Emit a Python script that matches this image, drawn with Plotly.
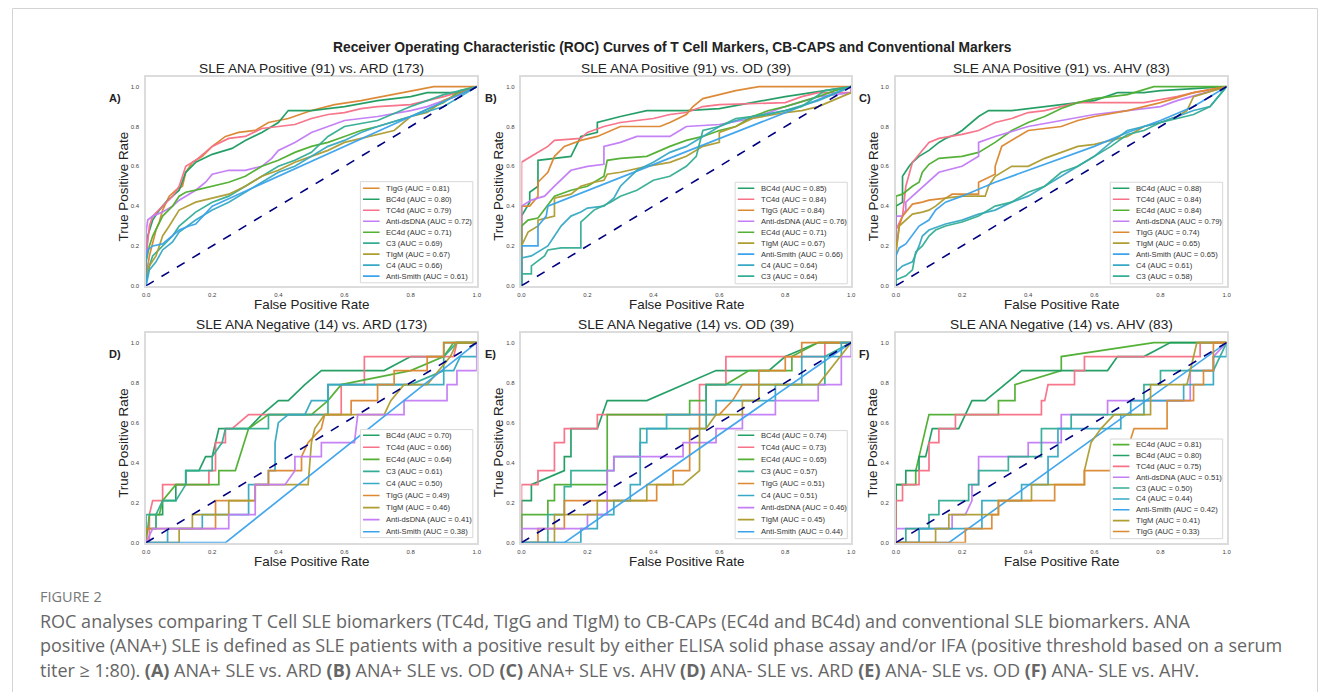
import plotly.graph_objects as go

W, H = 1331, 700          # browser window
OFF = 8                   # default page margin around the plot div
FW, FH = W - 2 * OFF, H - 2 * OFF

# ---------------- data ----------------
colors = {
    "TIgG": "#dc8932", "BC4d": "#22a066", "TC4d": "#f77189", "Anti-dsDNA": "#c47df5",
    "EC4d": "#52b033", "C3": "#35ad94", "TIgM": "#ae9d31", "C4": "#38a9c5", "Anti-Smith": "#3ba3ec",
}

panel_titles = [
    "SLE ANA Positive (91) vs. ARD (173)", "SLE ANA Positive (91) vs. OD (39)", "SLE ANA Positive (91) vs. AHV (83)",
    "SLE ANA Negative (14) vs. ARD (173)", "SLE ANA Negative (14) vs. OD (39)", "SLE ANA Negative (14) vs. AHV (83)",
]
panel_letters = ["A)", "B)", "C)", "D)", "E)", "F)"]

order_A = ["TIgG", "BC4d", "TC4d", "Anti-dsDNA", "EC4d", "C3", "TIgM", "C4", "Anti-Smith"]
auc_A = [0.81, 0.80, 0.79, 0.72, 0.71, 0.69, 0.67, 0.66, 0.61]
order_B = ["BC4d", "TC4d", "TIgG", "Anti-dsDNA", "EC4d", "TIgM", "Anti-Smith", "C4", "C3"]
auc_B = [0.85, 0.84, 0.84, 0.76, 0.71, 0.67, 0.66, 0.64, 0.64]
order_C = ["BC4d", "TC4d", "EC4d", "Anti-dsDNA", "TIgG", "TIgM", "Anti-Smith", "C4", "C3"]
auc_C = [0.88, 0.84, 0.84, 0.79, 0.74, 0.65, 0.65, 0.61, 0.58]
order_D = ["BC4d", "TC4d", "EC4d", "C3", "C4", "TIgG", "TIgM", "Anti-dsDNA", "Anti-Smith"]
auc_D = [0.70, 0.66, 0.64, 0.61, 0.50, 0.49, 0.46, 0.41, 0.38]
order_E = ["BC4d", "TC4d", "EC4d", "C3", "TIgG", "C4", "Anti-dsDNA", "TIgM", "Anti-Smith"]
auc_E = [0.74, 0.73, 0.65, 0.57, 0.51, 0.51, 0.46, 0.45, 0.44]
order_F = ["EC4d", "BC4d", "TC4d", "Anti-dsDNA", "C3", "C4", "Anti-Smith", "TIgM", "TIgG"]
auc_F = [0.81, 0.80, 0.75, 0.51, 0.50, 0.44, 0.42, 0.41, 0.33]

# ROC points per panel: marker -> (fpr list, tpr list)
roc_A = {
    "TIgG": ([0, 0, 0.01, 0.02, 0.03, 0.04, 0.05, 0.07, 0.09, 0.11, 0.12, 0.14, 0.17, 0.2, 0.24, 0.28, 0.33, 0.37, 0.43, 0.5, 0.57, 0.65, 0.77, 0.87, 1],
             [0, 0.05, 0.15, 0.22, 0.28, 0.32, 0.38, 0.45, 0.48, 0.5, 0.57, 0.62, 0.65, 0.7, 0.75, 0.77, 0.78, 0.82, 0.84, 0.88, 0.91, 0.93, 0.97, 1.0, 1.0]),
    "BC4d": ([0, 0, 0.005, 0.02, 0.04, 0.06, 0.08, 0.1, 0.12, 0.15, 0.2, 0.26, 0.3, 0.35, 0.4, 0.43, 0.5, 0.6, 0.7, 0.8, 0.85, 0.95, 1],
             [0, 0.13, 0.25, 0.33, 0.38, 0.42, 0.45, 0.48, 0.57, 0.62, 0.66, 0.69, 0.73, 0.77, 0.82, 0.88, 0.88, 0.9, 0.93, 0.95, 0.97, 0.97, 1.0]),
    "TC4d": ([0, 0, 0.01, 0.02, 0.05, 0.08, 0.1, 0.12, 0.15, 0.2, 0.25, 0.3, 0.35, 0.4, 0.45, 0.5, 0.55, 0.6, 0.65, 0.7, 0.8, 0.85, 0.9, 1],
             [0, 0.15, 0.3, 0.35, 0.4, 0.45, 0.5, 0.6, 0.63, 0.7, 0.74, 0.75, 0.79, 0.8, 0.81, 0.84, 0.86, 0.87, 0.89, 0.9, 0.91, 0.93, 0.95, 1.0]),
    "Anti-dsDNA": ([0, 0, 0.005, 0.02, 0.05, 0.08, 0.1, 0.12, 0.15, 0.18, 0.2, 0.25, 0.3, 0.35, 0.38, 0.4, 0.45, 0.5, 0.55, 0.6, 0.7, 0.8, 0.85, 0.9, 0.95, 1],
                   [0, 0.27, 0.33, 0.35, 0.37, 0.4, 0.43, 0.45, 0.48, 0.52, 0.56, 0.58, 0.58, 0.6, 0.64, 0.68, 0.72, 0.77, 0.8, 0.83, 0.85, 0.88, 0.9, 0.93, 0.96, 1.0]),
    "EC4d": ([0, 0, 0.01, 0.02, 0.05, 0.08, 0.1, 0.12, 0.15, 0.2, 0.25, 0.3, 0.35, 0.4, 0.45, 0.5, 0.55, 0.6, 0.65, 0.7, 0.8, 0.9, 0.95, 1],
             [0, 0.12, 0.2, 0.25, 0.35, 0.4, 0.45, 0.47, 0.48, 0.5, 0.52, 0.55, 0.6, 0.63, 0.67, 0.7, 0.72, 0.75, 0.78, 0.8, 0.85, 0.92, 0.98, 1.0]),
    "C3": ([0, 0.01, 0.02, 0.05, 0.08, 0.1, 0.15, 0.2, 0.25, 0.3, 0.35, 0.4, 0.45, 0.5, 0.55, 0.6, 0.7, 0.8, 0.85, 0.9, 1],
           [0.02, 0.1, 0.15, 0.2, 0.25, 0.3, 0.37, 0.42, 0.45, 0.5, 0.55, 0.6, 0.63, 0.67, 0.75, 0.8, 0.83, 0.9, 0.93, 0.96, 1.0]),
    "TIgM": ([0, 0.01, 0.03, 0.05, 0.07, 0.1, 0.15, 0.2, 0.25, 0.3, 0.35, 0.4, 0.45, 0.5, 0.55, 0.6, 0.65, 0.7, 0.75, 0.8, 0.85, 0.9, 1],
             [0.05, 0.1, 0.15, 0.25, 0.3, 0.38, 0.42, 0.44, 0.46, 0.5, 0.55, 0.58, 0.62, 0.65, 0.68, 0.72, 0.74, 0.76, 0.78, 0.85, 0.87, 0.93, 1.0]),
    "C4": ([0, 0.01, 0.03, 0.05, 0.08, 0.1, 0.15, 0.2, 0.25, 0.3, 0.35, 0.4, 0.45, 0.5, 0.55, 0.6, 0.65, 0.7, 0.8, 0.9, 0.95, 1],
           [0, 0.08, 0.12, 0.18, 0.22, 0.27, 0.33, 0.38, 0.42, 0.47, 0.52, 0.57, 0.6, 0.65, 0.7, 0.73, 0.77, 0.8, 0.85, 0.9, 0.95, 1.0]),
    "Anti-Smith": ([0, 0, 0.005, 0.02, 0.05, 0.08, 0.1, 0.13, 0.15, 0.2, 1],
                   [0, 0.13, 0.18, 0.2, 0.21, 0.25, 0.28, 0.3, 0.31, 0.4, 1.0]),
}
roc_B = {
    "BC4d": ([0, 0, 0.025, 0.025, 0.05, 0.05, 0.1, 0.15, 0.18, 0.23, 0.23, 0.3, 0.38, 0.5, 0.6, 0.7, 0.8, 0.92, 1],
             [0, 0.35, 0.42, 0.47, 0.5, 0.63, 0.64, 0.65, 0.75, 0.77, 0.82, 0.85, 0.88, 0.88, 0.89, 0.92, 0.95, 0.98, 1.0]),
    "TC4d": ([0, 0, 0.03, 0.05, 0.08, 0.1, 0.18, 0.2, 0.25, 0.3, 0.4, 0.45, 0.5, 0.55, 0.6, 0.8, 0.85, 0.9, 1, 1],
             [0, 0.62, 0.65, 0.67, 0.7, 0.73, 0.74, 0.77, 0.8, 0.82, 0.84, 0.86, 0.87, 0.9, 0.91, 0.92, 0.95, 0.97, 0.97, 1.0]),
    "TIgG": ([0, 0, 0.025, 0.05, 0.05, 0.08, 0.1, 0.13, 0.18, 0.23, 0.3, 0.42, 0.45, 0.5, 0.52, 0.55, 0.6, 0.65, 0.72, 1],
             [0, 0.4, 0.4, 0.45, 0.52, 0.57, 0.65, 0.7, 0.73, 0.75, 0.8, 0.8, 0.82, 0.86, 0.9, 0.94, 0.96, 0.98, 1.0, 1.0]),
    "Anti-dsDNA": ([0, 0, 0.03, 0.07, 0.1, 0.13, 0.15, 0.2, 0.25, 0.25, 0.3, 0.35, 0.45, 0.47, 0.5, 0.6, 0.7, 0.75, 0.8, 0.9, 1, 1],
                   [0, 0.4, 0.43, 0.45, 0.5, 0.55, 0.58, 0.6, 0.61, 0.7, 0.72, 0.75, 0.75, 0.77, 0.8, 0.81, 0.84, 0.87, 0.9, 0.95, 0.97, 1.0]),
    "EC4d": ([0, 0, 0.02, 0.05, 0.1, 0.15, 0.2, 0.25, 0.26, 0.3, 0.38, 0.45, 0.5, 0.55, 0.6, 0.65, 0.7, 0.75, 0.8, 0.9, 0.95, 1],
             [0, 0.3, 0.33, 0.34, 0.45, 0.48, 0.5, 0.55, 0.63, 0.64, 0.65, 0.7, 0.73, 0.75, 0.78, 0.8, 0.85, 0.88, 0.9, 0.95, 0.98, 1.0]),
    "TIgM": ([0, 0, 0.02, 0.05, 0.05, 0.1, 0.1, 0.15, 0.18, 0.22, 0.25, 0.26, 0.3, 0.38, 0.45, 0.5, 0.55, 0.6, 0.6, 0.65, 0.7, 0.8, 0.85, 0.9, 1],
             [0, 0.2, 0.27, 0.3, 0.33, 0.35, 0.44, 0.46, 0.5, 0.52, 0.53, 0.56, 0.57, 0.6, 0.62, 0.65, 0.7, 0.72, 0.77, 0.8, 0.84, 0.87, 0.88, 0.9, 0.97]),
    "Anti-Smith": ([0, 0, 0.05, 0.05, 0.075, 0.08, 1],
                   [0, 0.2, 0.2, 0.3, 0.35, 0.4, 1.0]),
    "C4": ([0, 0, 0.03, 0.05, 0.08, 0.1, 0.12, 0.15, 0.18, 0.2, 0.25, 0.28, 0.3, 0.35, 0.4, 0.45, 0.5, 0.55, 0.6, 0.65, 0.7, 0.8, 0.9, 1],
           [0, 0.14, 0.15, 0.17, 0.2, 0.25, 0.3, 0.35, 0.37, 0.39, 0.4, 0.44, 0.5, 0.58, 0.62, 0.67, 0.7, 0.75, 0.8, 0.83, 0.85, 0.88, 0.93, 1.0]),
    "C3": ([0, 0, 0.03, 0.03, 0.07, 0.08, 0.12, 0.18, 0.18, 0.22, 0.27, 0.3, 0.35, 0.4, 0.45, 0.5, 0.53, 0.55, 0.6, 0.65, 0.75, 0.85, 0.92, 1],
           [0, 0.06, 0.06, 0.1, 0.15, 0.18, 0.19, 0.19, 0.32, 0.38, 0.42, 0.45, 0.48, 0.53, 0.55, 0.6, 0.65, 0.78, 0.8, 0.84, 0.86, 0.9, 0.98, 1.0]),
}
roc_C = {
    "BC4d": ([0, 0, 0.02, 0.02, 0.04, 0.05, 0.07, 0.1, 0.13, 0.15, 0.18, 0.2, 0.25, 0.28, 0.35, 0.4, 0.5, 0.6, 0.67, 0.75, 0.8, 0.9, 1],
             [0, 0.4, 0.42, 0.55, 0.6, 0.62, 0.65, 0.68, 0.72, 0.74, 0.76, 0.78, 0.85, 0.88, 0.88, 0.89, 0.91, 0.93, 0.97, 0.97, 0.98, 0.99, 1.0]),
    "TC4d": ([0, 0, 0.02, 0.03, 0.05, 0.07, 0.1, 0.13, 0.2, 0.25, 0.3, 0.35, 0.4, 0.45, 0.5, 0.55, 0.75, 0.85, 0.9, 1],
             [0, 0.28, 0.35, 0.5, 0.62, 0.66, 0.72, 0.74, 0.76, 0.78, 0.82, 0.84, 0.87, 0.88, 0.9, 0.92, 0.92, 0.95, 0.97, 1.0]),
    "EC4d": ([0, 0, 0.02, 0.05, 0.07, 0.08, 0.1, 0.13, 0.2, 0.25, 0.3, 0.35, 0.4, 0.45, 0.5, 0.55, 0.6, 0.7, 0.78, 1],
             [0, 0.45, 0.46, 0.5, 0.52, 0.57, 0.61, 0.64, 0.65, 0.67, 0.72, 0.78, 0.82, 0.85, 0.89, 0.92, 0.94, 0.96, 1.0, 1.0]),
    "Anti-dsDNA": ([0, 0, 0.02, 0.03, 0.03, 0.05, 0.08, 0.1, 0.13, 0.2, 0.25, 0.25, 0.3, 0.4, 0.5, 0.6, 0.7, 0.8, 0.85, 1],
                   [0, 0.35, 0.35, 0.38, 0.42, 0.45, 0.5, 0.53, 0.57, 0.6, 0.65, 0.72, 0.75, 0.8, 0.83, 0.86, 0.88, 0.9, 0.93, 1.0]),
    "TIgG": ([0, 0, 0.005, 0.01, 0.02, 0.05, 0.08, 0.1, 0.15, 0.17, 0.25, 0.25, 0.3, 0.3, 0.32, 0.35, 0.4, 0.5, 0.55, 0.6, 0.7, 0.8, 0.9, 1],
             [0, 0.17, 0.23, 0.3, 0.35, 0.41, 0.42, 0.43, 0.44, 0.46, 0.46, 0.52, 0.56, 0.6, 0.7, 0.73, 0.78, 0.8, 0.83, 0.85, 0.88, 0.92, 0.97, 1.0]),
    "TIgM": ([0, 0, 0.01, 0.03, 0.05, 0.08, 0.1, 0.12, 0.15, 0.2, 0.27, 0.28, 0.3, 0.35, 0.4, 0.45, 0.5, 0.55, 0.6, 0.7, 0.75, 0.8, 0.85, 0.88, 0.9, 1],
             [0, 0.17, 0.3, 0.33, 0.36, 0.37, 0.38, 0.4, 0.44, 0.45, 0.45, 0.5, 0.55, 0.6, 0.6, 0.64, 0.67, 0.7, 0.71, 0.75, 0.8, 0.82, 0.85, 0.88, 0.95, 1.0]),
    "Anti-Smith": ([0, 0, 0.01, 0.03, 0.07, 0.1, 0.12, 0.15, 0.2, 0.3, 0.4, 0.5, 0.6, 0.7, 0.8, 0.9, 1],
                   [0, 0.15, 0.19, 0.21, 0.3, 0.33, 0.38, 0.42, 0.45, 0.52, 0.58, 0.64, 0.7, 0.77, 0.83, 0.9, 1.0]),
    "C4": ([0, 0, 0.02, 0.05, 0.07, 0.08, 0.1, 0.13, 0.15, 0.2, 0.25, 0.3, 0.35, 0.4, 0.45, 0.5, 0.55, 0.6, 0.65, 0.7, 0.8, 0.9, 0.95, 1],
           [0, 0.07, 0.1, 0.12, 0.2, 0.25, 0.28, 0.3, 0.31, 0.33, 0.36, 0.38, 0.42, 0.45, 0.5, 0.55, 0.6, 0.65, 0.72, 0.78, 0.82, 0.88, 0.9, 1.0]),
    "C3": ([0, 0, 0.03, 0.05, 0.06, 0.08, 0.1, 0.12, 0.15, 0.2, 0.25, 0.3, 0.35, 0.4, 0.45, 0.5, 0.55, 0.6, 0.65, 0.7, 0.75, 0.8, 0.85, 0.9, 0.95, 1],
           [0, 0.03, 0.05, 0.08, 0.17, 0.2, 0.25, 0.28, 0.3, 0.32, 0.35, 0.4, 0.42, 0.47, 0.5, 0.57, 0.6, 0.65, 0.7, 0.76, 0.78, 0.82, 0.84, 0.86, 0.9, 1.0]),
}
roc_D = {
    "BC4d": ([0, 0, 0.03, 0.03, 0.05, 0.05, 0.09, 0.09, 0.12, 0.12, 0.16, 0.18, 0.2, 0.22, 0.31, 0.35, 0.4, 0.43, 0.48, 0.53, 0.72, 0.8, 0.9, 0.9, 1],
             [0, 0.07, 0.07, 0.14, 0.14, 0.21, 0.21, 0.29, 0.29, 0.36, 0.36, 0.43, 0.43, 0.57, 0.57, 0.64, 0.71, 0.71, 0.79, 0.86, 0.86, 0.93, 0.93, 1.0, 1.0]),
    "TC4d": ([0, 0.01, 0.01, 0.02, 0.05, 0.05, 0.19, 0.19, 0.21, 0.21, 0.24, 0.24, 0.26, 0.31, 0.59, 0.59, 0.66, 0.66, 0.93, 0.94, 1],
             [0, 0, 0.14, 0.21, 0.21, 0.29, 0.29, 0.36, 0.36, 0.5, 0.5, 0.57, 0.57, 0.64, 0.64, 0.79, 0.79, 0.93, 0.93, 1.0, 1.0]),
    "EC4d": ([0, 0.01, 0.04, 0.05, 0.09, 0.22, 0.22, 0.27, 0.31, 0.37, 0.5, 0.55, 0.59, 0.8, 0.9, 0.93, 1],
             [0, 0.14, 0.14, 0.21, 0.29, 0.29, 0.36, 0.36, 0.57, 0.64, 0.64, 0.71, 0.79, 0.86, 0.93, 1.0, 1.0]),
    "C3": ([0, 0, 0.03, 0.05, 0.09, 0.12, 0.12, 0.2, 0.2, 0.23, 0.24, 0.37, 0.37, 0.55, 0.55, 0.8, 0.9, 0.9, 0.94, 1],
           [0, 0.14, 0.14, 0.21, 0.21, 0.29, 0.36, 0.36, 0.43, 0.5, 0.57, 0.57, 0.64, 0.64, 0.79, 0.79, 0.86, 0.93, 1.0, 1.0]),
    "C4": ([0, 0.065, 0.065, 0.17, 0.17, 0.31, 0.31, 0.37, 0.37, 0.39, 0.39, 0.4, 0.43, 0.48, 0.5, 0.55, 0.55, 0.9, 0.9, 0.93, 0.95, 1, 1],
           [0, 0, 0.07, 0.07, 0.14, 0.14, 0.29, 0.29, 0.36, 0.36, 0.5, 0.6, 0.64, 0.64, 0.71, 0.71, 0.79, 0.79, 0.86, 0.86, 0.93, 0.93, 1.0]),
    "TIgG": ([0, 0, 0.21, 0.21, 0.33, 0.33, 0.37, 0.37, 0.47, 0.47, 0.49, 0.53, 0.54, 0.62, 0.62, 0.7, 0.7, 0.75, 0.75, 0.85, 0.85, 0.9, 0.9, 1],
             [0, 0.07, 0.07, 0.21, 0.21, 0.29, 0.29, 0.36, 0.36, 0.43, 0.5, 0.57, 0.64, 0.64, 0.71, 0.71, 0.79, 0.79, 0.86, 0.86, 0.93, 0.93, 1.0, 1.0]),
    "TIgM": ([0, 0.1, 0.1, 0.14, 0.14, 0.25, 0.25, 0.33, 0.33, 0.49, 0.5, 0.51, 0.54, 0.72, 0.74, 0.78, 0.85, 0.92, 0.94, 1],
             [0, 0, 0.07, 0.07, 0.14, 0.14, 0.21, 0.21, 0.29, 0.29, 0.5, 0.57, 0.64, 0.64, 0.71, 0.79, 0.79, 0.93, 1.0, 1.0]),
    "Anti-dsDNA": ([0, 0.02, 0.25, 0.25, 0.33, 0.33, 0.42, 0.45, 0.45, 0.53, 0.53, 0.63, 0.64, 0.78, 0.78, 0.91, 0.91, 0.94, 0.94, 1, 1],
                   [0, 0.07, 0.07, 0.14, 0.14, 0.29, 0.29, 0.36, 0.43, 0.43, 0.5, 0.5, 0.64, 0.64, 0.71, 0.71, 0.79, 0.79, 0.86, 0.86, 1.0]),
    "Anti-Smith": ([0, 0.24, 1], [0, 0, 1.0]),
}
roc_E = {
    "BC4d": ([0, 0, 0.03, 0.03, 0.13, 0.13, 0.15, 0.15, 0.23, 0.26, 0.38, 0.59, 0.75, 0.8, 0.9, 1],
             [0, 0.21, 0.21, 0.29, 0.36, 0.43, 0.43, 0.57, 0.57, 0.71, 0.71, 0.86, 0.86, 0.93, 1.0, 1.0]),
    "TC4d": ([0, 0, 0.05, 0.05, 0.1, 0.1, 0.13, 0.13, 0.23, 0.23, 0.54, 0.54, 0.62, 0.62, 0.92, 0.92, 1],
             [0, 0.29, 0.29, 0.36, 0.36, 0.5, 0.5, 0.57, 0.57, 0.64, 0.64, 0.79, 0.79, 0.93, 0.93, 1.0, 1.0]),
    "EC4d": ([0, 0, 0.08, 0.08, 0.1, 0.1, 0.26, 0.26, 0.51, 0.51, 0.56, 0.56, 0.62, 0.69, 0.82, 0.82, 0.9, 1],
             [0, 0.14, 0.14, 0.21, 0.21, 0.29, 0.29, 0.64, 0.64, 0.71, 0.71, 0.79, 0.79, 0.86, 0.86, 0.93, 1.0, 1.0]),
    "C3": ([0, 0.08, 0.08, 0.13, 0.13, 0.15, 0.15, 0.28, 0.28, 0.36, 0.36, 0.56, 0.56, 0.92, 0.92, 1],
           [0, 0, 0.14, 0.14, 0.28, 0.28, 0.36, 0.36, 0.43, 0.43, 0.57, 0.57, 0.79, 0.79, 0.93, 1.0]),
    "TIgG": ([0, 0.05, 0.05, 0.13, 0.13, 0.41, 0.41, 0.46, 0.46, 0.51, 0.51, 0.54, 0.54, 0.6, 0.64, 0.67, 0.72, 0.72, 0.8, 0.8, 0.85, 0.85, 1],
             [0, 0, 0.07, 0.07, 0.21, 0.21, 0.29, 0.29, 0.36, 0.36, 0.57, 0.57, 0.64, 0.64, 0.71, 0.79, 0.79, 0.86, 0.86, 0.93, 0.93, 1.0, 1.0]),
    "C4": ([0, 0.18, 0.18, 0.23, 0.23, 0.28, 0.28, 0.33, 0.33, 0.36, 0.36, 0.38, 0.38, 0.44, 0.44, 0.59, 0.59, 0.77, 0.77, 0.85, 0.85, 0.97, 0.97, 1],
           [0, 0, 0.07, 0.07, 0.14, 0.14, 0.21, 0.21, 0.29, 0.29, 0.5, 0.5, 0.57, 0.57, 0.64, 0.64, 0.71, 0.71, 0.79, 0.79, 0.93, 0.93, 1.0, 1.0]),
    "Anti-dsDNA": ([0, 0, 0.2, 0.2, 0.26, 0.26, 0.28, 0.28, 0.49, 0.49, 0.59, 0.59, 0.67, 0.67, 0.77, 0.77, 0.9, 0.9, 0.97, 0.97, 1, 1],
                   [0, 0.07, 0.07, 0.14, 0.14, 0.36, 0.36, 0.43, 0.43, 0.5, 0.5, 0.57, 0.57, 0.64, 0.64, 0.71, 0.71, 0.79, 0.79, 0.93, 0.93, 1.0]),
    "TIgM": ([0, 0.1, 0.1, 0.23, 0.23, 0.38, 0.38, 0.49, 0.54, 0.54, 0.56, 0.59, 0.67, 0.67, 0.72, 0.72, 0.9, 1],
             [0, 0, 0.14, 0.14, 0.21, 0.21, 0.29, 0.29, 0.36, 0.57, 0.57, 0.64, 0.64, 0.71, 0.71, 0.79, 0.79, 1.0]),
    "Anti-Smith": ([0, 0.13, 1], [0, 0, 1.0]),
}
roc_F = {
    "EC4d": ([0, 0, 0.06, 0.06, 0.07, 0.1, 0.31, 0.31, 0.36, 0.36, 0.5, 0.5, 0.78, 1],
             [0, 0.29, 0.29, 0.36, 0.43, 0.64, 0.64, 0.71, 0.71, 0.79, 0.86, 0.93, 1.0, 1.0]),
    "BC4d": ([0, 0, 0.03, 0.03, 0.07, 0.07, 0.09, 0.11, 0.19, 0.21, 0.23, 0.27, 0.33, 0.38, 0.64, 0.67, 0.75, 0.83, 1],
             [0, 0.29, 0.29, 0.36, 0.36, 0.43, 0.43, 0.57, 0.57, 0.64, 0.71, 0.71, 0.79, 0.86, 0.86, 0.93, 0.93, 1.0, 1.0]),
    "TC4d": ([0, 0, 0.02, 0.02, 0.07, 0.07, 0.1, 0.1, 0.13, 0.13, 0.18, 0.18, 0.44, 0.44, 0.45, 0.46, 0.54, 0.54, 0.57, 0.57, 0.92, 0.92, 1],
             [0, 0.21, 0.21, 0.29, 0.29, 0.36, 0.36, 0.5, 0.5, 0.57, 0.57, 0.64, 0.64, 0.71, 0.71, 0.79, 0.79, 0.86, 0.86, 0.93, 0.93, 1.0, 1.0]),
    "Anti-dsDNA": ([0, 0, 0.17, 0.17, 0.21, 0.23, 0.23, 0.25, 0.25, 0.4, 0.4, 0.5, 0.5, 0.64, 0.64, 0.89, 0.89, 0.96, 0.96, 1],
                   [0, 0.07, 0.07, 0.14, 0.14, 0.21, 0.29, 0.29, 0.43, 0.43, 0.5, 0.5, 0.64, 0.64, 0.71, 0.71, 0.86, 0.86, 0.93, 1.0]),
    "C3": ([0, 0.03, 0.03, 0.1, 0.1, 0.13, 0.13, 0.22, 0.22, 0.25, 0.25, 0.34, 0.34, 0.44, 0.44, 0.53, 0.53, 0.75, 0.75, 0.8, 0.8, 0.96, 1],
           [0, 0, 0.07, 0.07, 0.14, 0.14, 0.21, 0.21, 0.29, 0.29, 0.36, 0.36, 0.43, 0.43, 0.57, 0.57, 0.64, 0.64, 0.79, 0.79, 0.86, 0.86, 1.0]),
    "C4": ([0, 0.07, 0.07, 0.26, 0.26, 0.38, 0.38, 0.46, 0.46, 0.49, 0.49, 0.68, 0.68, 0.71, 0.71, 0.87, 0.87, 0.96, 0.96, 1, 1],
           [0, 0, 0.07, 0.07, 0.21, 0.21, 0.29, 0.29, 0.43, 0.43, 0.57, 0.57, 0.64, 0.64, 0.71, 0.71, 0.79, 0.79, 0.93, 0.93, 1.0]),
    "Anti-Smith": ([0, 0.16, 1], [0, 0, 1.0]),
    "TIgM": ([0, 0.12, 0.12, 0.16, 0.16, 0.31, 0.31, 0.41, 0.41, 0.57, 0.57, 0.59, 0.62, 0.66, 0.77, 0.77, 0.88, 0.91, 1],
             [0, 0, 0.07, 0.07, 0.14, 0.14, 0.21, 0.21, 0.29, 0.29, 0.36, 0.5, 0.57, 0.64, 0.64, 0.79, 0.79, 1.0, 1.0]),
    "TIgG": ([0, 0.21, 0.21, 0.29, 0.29, 0.31, 0.31, 0.48, 0.48, 0.57, 0.57, 0.68, 0.72, 0.82, 0.82, 0.9, 0.9, 0.93, 0.93, 0.96, 0.96, 1],
             [0, 0, 0.07, 0.07, 0.14, 0.14, 0.21, 0.21, 0.29, 0.29, 0.36, 0.36, 0.57, 0.57, 0.71, 0.71, 0.79, 0.79, 0.86, 0.86, 1.0, 1.0]),
}

tick_vals = [0.0, 0.2, 0.4, 0.6, 0.8, 1.0]

caption_head = "FIGURE 2"
caption_lines = [
    "ROC analyses comparing T Cell SLE biomarkers (TC4d, TIgG and TIgM) to CB-CAPs (EC4d and BC4d) and conventional SLE biomarkers. ANA",
    "positive (ANA+) SLE is defined as SLE patients with a positive result by either ELISA solid phase assay and/or IFA (positive threshold based on a serum",
    "titer ≥ 1:80). <b>(A)</b> ANA+ SLE vs. ARD <b>(B)</b> ANA+ SLE vs. OD <b>(C)</b> ANA+ SLE vs. AHV <b>(D)</b> ANA- SLE vs. ARD <b>(E)</b> ANA- SLE vs. OD <b>(F)</b> ANA- SLE vs. AHV.",
]
suptitle = "Receiver Operating Characteristic (ROC) Curves of T Cell Markers, CB-CAPS and Conventional Markers"

panels = [(roc_A, order_A, auc_A), (roc_B, order_B, auc_B), (roc_C, order_C, auc_C),
          (roc_D, order_D, auc_D), (roc_E, order_E, auc_E), (roc_F, order_F, auc_F)]

# ---------------- layout geometry (window pixels) ----------------
cols_px = [(143, 476), (521, 853), (898, 1231)]
rows_px = [(77, 287), (334, 545)]     # top (y=1.05), bottom (y=0)
legend_geom = [  # (box top, box bottom, first entry, step) in data units
    (0.523, 0.015, 0.49, 0.0552), (0.52, 0.01, 0.49, 0.0552), (0.52, 0.01, 0.49, 0.0552),
    (0.565, 0.025, 0.537, 0.0603), (0.56, 0.02, 0.537, 0.0603), (0.518, 0.02, 0.49, 0.0543),
]

FONT = "Liberation Sans, Arial, sans-serif"

def px(x):
    return (x - OFF) / FW

def py(y):
    return (FH - (y - OFF)) / FH

fig = go.Figure()
shapes = []
annotations = []

for i, (roc, order, aucs) in enumerate(panels):
    r, c = divmod(i, 3)
    n = i + 1
    sfx = "" if n == 1 else str(n)
    xa, ya = "x" + sfx, "y" + sfx
    l, rr = cols_px[c]
    t, b = rows_px[r]
    fig.update_layout(**{
        "xaxis" + sfx: dict(domain=[px(l), px(rr)], range=[0, 1], anchor=ya,
                            tickvals=tick_vals, tickformat=".1f", ticks="outside", ticklen=2,
                            tickcolor="rgba(0,0,0,0)", showgrid=False, zeroline=False,
                            showline=True, mirror=True, linecolor="#dcdcdc", linewidth=1.5,
                            tickfont=dict(size=6, color="#444", family=FONT), fixedrange=True),
        "yaxis" + sfx: dict(domain=[py(b), py(t)], range=[0, 1.05], anchor=xa,
                            tickvals=tick_vals, tickformat=".1f", ticks="outside", ticklen=4,
                            tickcolor="rgba(0,0,0,0)", showgrid=False, zeroline=False,
                            showline=True, mirror=True, linecolor="#dcdcdc", linewidth=1.5,
                            tickfont=dict(size=6, color="#444", family=FONT), fixedrange=True),
    })
    for name in order:
        fpr, tpr = roc[name]
        fig.add_trace(go.Scatter(x=fpr, y=tpr, mode="lines", xaxis=xa, yaxis=ya,
                                 line=dict(color=colors[name], width=1.7), opacity=0.95,
                                 showlegend=False, hoverinfo="skip"))
    # chance line
    fig.add_trace(go.Scatter(x=[0, 1], y=[0, 1], mode="lines", xaxis=xa, yaxis=ya,
                             line=dict(color="#000080", width=1.6, dash="dash"),
                             showlegend=False, hoverinfo="skip"))

    # legend (drawn in axis units)
    btop, bbot, first, step = legend_geom[i]
    shapes.append(dict(type="rect", xref=xa, yref=ya, x0=0.648, x1=0.988, y0=bbot, y1=btop,
                       fillcolor="white", line=dict(color="#d8d8d8", width=1), layer="above"))
    for k, (name, auc) in enumerate(zip(order, aucs)):
        yy = first - k * step
        shapes.append(dict(type="line", xref=xa, yref=ya, x0=0.656, x1=0.706, y0=yy, y1=yy,
                           line=dict(color=colors[name], width=1.6), layer="above"))
        annotations.append(dict(xref=xa, yref=ya, x=0.72, y=yy, xanchor="left", yanchor="middle",
                                text=f"{name} (AUC = {auc:.2f})", showarrow=False,
                                font=dict(size=7.6, color="#333", family=FONT)))

    cx = (l + rr) / 2
    y1px = b - (b - t) / 1.05
    annotations.append(dict(xref="paper", yref="paper", x=px(cx), y=py(t - 8), xanchor="center",
                            yanchor="middle", text=panel_titles[i], showarrow=False,
                            font=dict(size=13.7, color="#222", family=FONT)))
    annotations.append(dict(xref="paper", yref="paper", x=px(l - 39), y=py(y1px + 11), xanchor="left",
                            yanchor="middle", text="<b>" + panel_letters[i] + "</b>", showarrow=False,
                            font=dict(size=11, color="#222", family=FONT)))
    annotations.append(dict(xref="paper", yref="paper", x=px(cx), y=py(b + 19), xanchor="center",
                            yanchor="middle", text="False Positive Rate", showarrow=False,
                            font=dict(size=13.4, color="#222", family=FONT)))
    annotations.append(dict(xref="paper", yref="paper", x=px(l - 23), y=py((y1px + b) / 2),
                            xanchor="center", yanchor="middle", text="True Positive Rate", textangle=-90,
                            showarrow=False, font=dict(size=13.4, color="#222", family=FONT)))

annotations.append(dict(xref="paper", yref="paper", x=px(673), y=py(48), xanchor="center", yanchor="middle",
                        text="<b>" + suptitle + "</b>", showarrow=False,
                        font=dict(size=13.8, color="#222", family=FONT)))

CAP_FONT = "Open Sans, Lato, sans-serif"
annotations.append(dict(xref="paper", yref="paper", x=px(34), y=py(599), xanchor="left", yanchor="middle",
                        text=caption_head, showarrow=False, font=dict(size=14.5, color="#777", family=CAP_FONT)))
for k, line in enumerate(caption_lines):
    annotations.append(dict(xref="paper", yref="paper", x=px(34), y=py(623.5 + 24.5 * k), xanchor="left",
                            yanchor="middle", text=line, showarrow=False,
                            font=dict(size=18, color="#666", family=CAP_FONT)))

# outer frame (left/top/right edges of the figure box)
shapes.append(dict(type="rect", xref="paper", yref="paper", x0=px(8.5), x1=px(1322.5), y0=-0.05, y1=py(8.5),
                   line=dict(color="#d4d4d4", width=1), fillcolor="rgba(0,0,0,0)", layer="below"))

fig.update_layout(width=FW, height=FH, margin=dict(l=0, r=0, t=0, b=0),
                  paper_bgcolor="white", plot_bgcolor="white", showlegend=False,
                  shapes=shapes, annotations=annotations)

fig.write_html("out.html", config={"displayModeBar": False})
